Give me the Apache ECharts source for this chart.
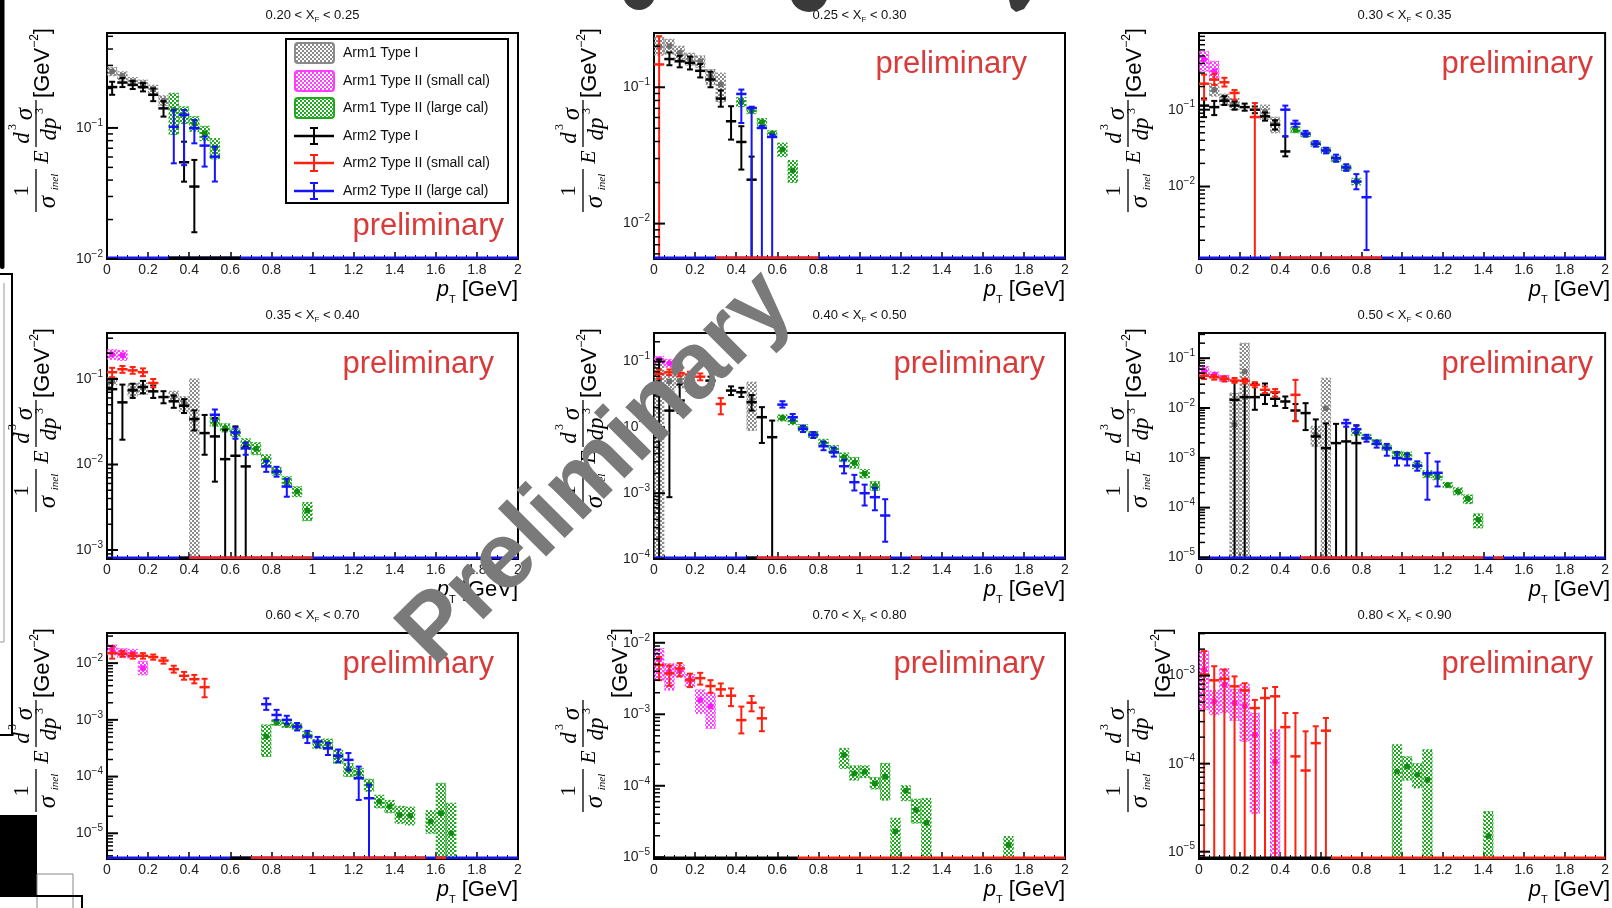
<!DOCTYPE html>
<html>
<head>
<meta charset="utf-8">
<script src="https://cdn.jsdelivr.net/npm/echarts@6/dist/echarts.min.js"></script>
<style>
html, body { margin: 0; padding: 0; background: #fff; }
#chart { width: 1612px; height: 908px; }
</style>
</head>
<body>
<div id="chart"></div>
<script>
// ---------------------------------------------------------------------------
// Invariant cross sections (1/sigma_inel) E d3sigma/dp3 vs pT, nine x_F bins.
// Each point: [pT centre, value, lower edge, upper edge]; an edge of 0 means
// the uncertainty reaches zero (drawn down to the bottom of the log axis).
// ---------------------------------------------------------------------------
const xfEdges = ['0.20', '0.25', '0.30', '0.35', '0.40', '0.50', '0.60', '0.70', '0.80', '0.90'];

// y range of every panel (log axis)
const yRanges = [
  [0.01, 0.53], [0.0055, 0.25], [0.00114, 0.995],
  [7.85e-4, 0.345], [1e-4, 0.272], [9.3e-6, 0.32],
  [3.52e-6, 0.034], [9.46e-6, 0.0137], [8.26e-6, 0.00305]
];

const legendLabels = [
  'Arm1 Type I', 'Arm1 Type II (small cal)', 'Arm1 Type II (large cal)',
  'Arm2 Type I', 'Arm2 Type II (small cal)', 'Arm2 Type II (large cal)'
];

// Arm1 Type I (systematic boxes)
const arm1TypeI = [
  [[0.025, 0.269, 0.25, 0.29], [0.075, 0.249, 0.232, 0.268], [0.125, 0.225, 0.21, 0.242],
   [0.175, 0.215, 0.2, 0.232], [0.225, 0.197, 0.183, 0.212], [0.275, 0.161, 0.148, 0.176]],
  [[0.025, 0.2, 0.172, 0.232], [0.075, 0.2, 0.175, 0.225], [0.125, 0.179, 0.16, 0.2],
   [0.175, 0.161, 0.145, 0.178], [0.225, 0.155, 0.14, 0.17], [0.275, 0.12, 0.105, 0.135],
   [0.325, 0.105, 0.078, 0.127]],
  [[0.075, 0.182, 0.15, 0.22], [0.125, 0.135, 0.115, 0.16], [0.175, 0.122, 0.1, 0.14],
   [0.325, 0.095, 0.075, 0.115], [0.375, 0.066, 0.05, 0.08]],
  [[0.025, 0.094, 0.085, 0.104], [0.125, 0.075, 0.063, 0.088], [0.175, 0.0785, 0.066, 0.09],
   [0.325, 0.0627, 0.055, 0.072], [0.375, 0.0523, 0.042, 0.062], [0.425, 0.0334, 0, 0.1]],
  [[0.025, 0.0514, 0, 0.095], [0.075, 0.05, 0.035, 0.07], [0.125, 0.0514, 0.04, 0.065],
   [0.175, 0.045, 0.035, 0.058], [0.475, 0.0256, 0.009, 0.0486]],
  [[0.175, 0.00459, 0, 0.0199], [0.225, 0.054, 0, 0.2], [0.575, 0.0029, 0.0017, 0.0043],
   [0.625, 0.00993, 0, 0.0397]],
  [], [], []
];

// Arm1 Type II, small calorimeter (systematic boxes)
const arm1SmallCal = [
  [],
  [],
  [[0.025, 0.449, 0.316, 0.57], [0.075, 0.316, 0.246, 0.427]],
  [[0.025, 0.193, 0.17, 0.22], [0.075, 0.188, 0.165, 0.215]],
  [[0.025, 0.106, 0.09, 0.12], [0.075, 0.0944, 0.082, 0.108]],
  [[0.025, 0.0566, 0.045, 0.068], [0.075, 0.0464, 0.04, 0.053], [0.125, 0.0397, 0.034, 0.045]],
  [[0.025, 0.0172, 0.014, 0.021], [0.075, 0.015, 0.0125, 0.018], [0.125, 0.0146, 0.012, 0.0175],
   [0.175, 0.00816, 0.0062, 0.0108]],
  [[0.025, 0.00604, 0.003, 0.0083], [0.075, 0.00394, 0.00218, 0.0051], [0.125, 0.0041, 0.0033, 0.0049],
   [0.175, 0.00301, 0.0024, 0.0036], [0.225, 0.00158, 0.00103, 0.0022], [0.275, 0.0013, 0.000635, 0.00196]],
  [[0.025, 0.00117, 0.00041, 0.00189], [0.075, 0.00051, 0.00036, 0.00068], [0.125, 0.00079, 0.00038, 0.0012],
   [0.175, 0.000489, 0.00031, 0.0007], [0.225, 0.000448, 0.00018, 0.0008], [0.275, 0.000213, 0.0000273, 0.000376],
   [0.375, 0.000106, 0, 0.000243]]
];

// Arm1 Type II, large calorimeter (systematic boxes)
const arm1LargeCal = [
  [[0.325, 0.137, 0.089, 0.184], [0.375, 0.126, 0.108, 0.145], [0.425, 0.107, 0.094, 0.122],
   [0.475, 0.091, 0.08, 0.103], [0.525, 0.07, 0.058, 0.083]],
  [[0.425, 0.0777, 0.072, 0.084], [0.475, 0.0675, 0.064, 0.071], [0.525, 0.0553, 0.052, 0.059],
   [0.575, 0.0457, 0.043, 0.048], [0.625, 0.0349, 0.031, 0.039], [0.675, 0.0245, 0.02, 0.029]],
  [[0.475, 0.0548, 0.05, 0.06], [0.525, 0.0472, 0.044, 0.051], [0.575, 0.036, 0.033, 0.039],
   [0.625, 0.0295, 0.027, 0.032], [0.675, 0.0228, 0.021, 0.025], [0.725, 0.0173, 0.016, 0.019],
   [0.775, 0.0116, 0.0105, 0.0128]],
  [[0.525, 0.0319, 0.028, 0.036], [0.575, 0.0267, 0.024, 0.03], [0.625, 0.0233, 0.021, 0.026],
   [0.675, 0.0175, 0.015, 0.02], [0.725, 0.0153, 0.013, 0.018], [0.775, 0.0111, 0.0095, 0.013],
   [0.825, 0.0083, 0.0075, 0.0092], [0.875, 0.0063, 0.0055, 0.0072], [0.925, 0.00483, 0.0042, 0.0055],
   [0.975, 0.00289, 0.0022, 0.0036]],
  [[0.625, 0.014, 0.0125, 0.0155], [0.675, 0.0124, 0.011, 0.014], [0.725, 0.0098, 0.0088, 0.011],
   [0.775, 0.0078, 0.007, 0.0087], [0.825, 0.0058, 0.0051, 0.0066], [0.875, 0.0046, 0.004, 0.0053],
   [0.925, 0.00352, 0.003, 0.0041], [0.975, 0.0029, 0.0024, 0.0035], [1.025, 0.00197, 0.0017, 0.0023],
   [1.075, 0.0013, 0.0011, 0.0015]],
  [[0.775, 0.00322, 0.0028, 0.0037], [0.825, 0.00259, 0.0023, 0.0029], [0.875, 0.00204, 0.0018, 0.0023],
   [0.925, 0.0016, 0.0014, 0.0018], [0.975, 0.0012, 0.00105, 0.00135], [1.025, 0.00115, 0.001, 0.0013],
   [1.075, 0.0007, 0.0006, 0.0008], [1.125, 0.00047, 0.0004, 0.00055], [1.175, 0.00042, 0.00036, 0.00049],
   [1.225, 0.000283, 0.00025, 0.00032], [1.275, 0.000211, 0.00018, 0.00025], [1.325, 0.00015, 0.00012, 0.00018],
   [1.375, 0.000057, 0.000039, 0.000075]],
  [[0.775, 0.000508, 0.000225, 0.000817], [0.825, 0.000897, 0.0008, 0.001], [0.875, 0.00082, 0.00073, 0.00092],
   [0.925, 0.00076, 0.00068, 0.00085], [0.975, 0.000543, 0.00047, 0.00062], [1.025, 0.000377, 0.00031, 0.00045],
   [1.075, 0.000377, 0.0003, 0.00046], [1.125, 0.000225, 0.00017, 0.00029], [1.175, 0.000131, 0.0001, 0.00017],
   [1.225, 0.000115, 0.00009, 0.00014], [1.275, 0.0000713, 0.000055, 0.00009], [1.325, 0.0000362, 0.000028, 0.000047],
   [1.375, 0.0000296, 0.000023, 0.000038], [1.425, 0.0000211, 0.000015, 0.00003], [1.475, 0.0000204, 0.000014, 0.000029],
   [1.575, 0.0000161, 0.00001, 0.000025], [1.625, 0.0000225, 0, 0.0000763], [1.675, 0.00001, 0, 0.0000339]],
  [[0.925, 0.000269, 0.000175, 0.000334], [0.975, 0.000149, 0.00012, 0.00019], [1.025, 0.000157, 0.00013, 0.00019],
   [1.075, 0.000108, 0.00009, 0.00013], [1.125, 0.000134, 0.000063, 0.000206], [1.175, 0.0000229, 0, 0.0000352],
   [1.225, 0.0000855, 0.000062, 0.0001], [1.275, 0.0000459, 0.00003, 0.000065], [1.325, 0.0000305, 0, 0.0000665],
   [1.725, 0.0000149, 0, 0.0000195]],
  [[0.975, 0.0000815, 0, 0.000164], [1.025, 0.000093, 0.000065, 0.00012], [1.075, 0.0000746, 0.000053, 0.0001],
   [1.125, 0.0000654, 0, 0.000144], [1.425, 0.0000151, 0, 0.0000285]]
];

// Arm2 Type I (statistical error bars)
const arm2TypeI = [
  [[0.025, 0.205, 0.179, 0.225], [0.075, 0.222, 0.205, 0.24], [0.125, 0.213, 0.198, 0.228],
   [0.175, 0.205, 0.19, 0.22], [0.225, 0.179, 0.16, 0.2], [0.275, 0.141, 0.122, 0.16],
   [0.375, 0.0547, 0.0389, 0.0785], [0.425, 0.0357, 0.016, 0.057]],
  [[0.075, 0.161, 0.145, 0.18], [0.125, 0.155, 0.14, 0.17], [0.175, 0.151, 0.135, 0.168],
   [0.225, 0.132, 0.118, 0.148], [0.275, 0.114, 0.1, 0.13], [0.325, 0.0826, 0.072, 0.095],
   [0.375, 0.0563, 0.0413, 0.0726], [0.425, 0.0397, 0.0249, 0.0518], [0.475, 0.021, 0, 0.031]],
  [[0.025, 0.113, 0.08, 0.14], [0.075, 0.108, 0.085, 0.13], [0.125, 0.131, 0.115, 0.15],
   [0.175, 0.113, 0.1, 0.128], [0.225, 0.108, 0.097, 0.12], [0.275, 0.1, 0.09, 0.11],
   [0.325, 0.0818, 0.072, 0.092], [0.375, 0.0637, 0.055, 0.073], [0.425, 0.0286, 0.0247, 0.0449]],
  [[0.025, 0.076, 0, 0.1], [0.075, 0.0533, 0.0195, 0.086], [0.125, 0.0737, 0.06, 0.088],
   [0.175, 0.0806, 0.068, 0.095], [0.225, 0.0717, 0.06, 0.084], [0.275, 0.0615, 0.052, 0.072],
   [0.325, 0.0548, 0.046, 0.064], [0.375, 0.0487, 0.04, 0.058], [0.425, 0.034, 0.025, 0.043],
   [0.475, 0.0233, 0.013, 0.038], [0.525, 0.0213, 0.0063, 0.035], [0.575, 0.01155, 0, 0.0255],
   [0.625, 0.01265, 0, 0.0279], [0.675, 0.0095, 0, 0.0163]],
  [[0.025, 0.0322, 0, 0.108], [0.075, 0.018, 0.00087, 0.0322], [0.125, 0.0256, 0.0165, 0.045],
   [0.175, 0.0417, 0.035, 0.05], [0.275, 0.0514, 0.045, 0.059], [0.375, 0.0363, 0.031, 0.042],
   [0.425, 0.0342, 0.029, 0.04], [0.475, 0.0241, 0.018, 0.031], [0.525, 0.0143, 0.0058, 0.0203],
   [0.575, 0.0071, 0, 0.0127]],
  [[0.175, 0.0146, 0, 0.034], [0.225, 0.0165, 0, 0.0367], [0.275, 0.0165, 0.0092, 0.0315],
   [0.325, 0.0184, 0.012, 0.031], [0.375, 0.0153, 0.011, 0.02], [0.425, 0.0135, 0.01, 0.017],
   [0.475, 0.0089, 0.0055, 0.012], [0.525, 0.0079, 0.0036, 0.0125], [0.575, 0.00268, 0, 0.0059],
   [0.625, 0.00156, 0, 0.0049], [0.675, 0.00197, 0, 0.0048], [0.725, 0.00213, 0, 0.005],
   [0.775, 0.00197, 0, 0.0045]],
  [], [], []
];

// Arm2 Type II, small calorimeter (statistical error bars)
const arm2SmallCal = [
  [],
  [[0.025, 0.147, 0, 0.237]],
  [[0.025, 0.218, 0.135, 0.286], [0.075, 0.246, 0.21, 0.29], [0.125, 0.227, 0.2, 0.26],
   [0.175, 0.165, 0.135, 0.18], [0.275, 0.0802, 0, 0.122]],
  [[0.025, 0.12, 0.105, 0.135], [0.075, 0.13, 0.118, 0.142], [0.125, 0.126, 0.115, 0.138],
   [0.175, 0.12, 0.108, 0.133], [0.225, 0.0898, 0.08, 0.1]],
  [[0.025, 0.065, 0.055, 0.075], [0.075, 0.0688, 0.062, 0.076], [0.125, 0.0665, 0.06, 0.073],
   [0.175, 0.0635, 0.057, 0.07], [0.225, 0.059, 0.052, 0.066], [0.325, 0.0227, 0.0158, 0.0279]],
  [[0.025, 0.0441, 0.038, 0.05], [0.075, 0.0415, 0.037, 0.046], [0.125, 0.0385, 0.034, 0.043],
   [0.175, 0.0356, 0.032, 0.04], [0.225, 0.035, 0.031, 0.039], [0.275, 0.0292, 0.026, 0.033],
   [0.325, 0.0232, 0.02, 0.027], [0.375, 0.0208, 0.017, 0.024], [0.475, 0.0184, 0.0054, 0.0367]],
  [[0.025, 0.015, 0.012, 0.02], [0.075, 0.0146, 0.013, 0.0165], [0.125, 0.0135, 0.012, 0.015],
   [0.175, 0.0135, 0.012, 0.015], [0.225, 0.0128, 0.0115, 0.0142], [0.275, 0.0111, 0.0098, 0.0124],
   [0.325, 0.00783, 0.0068, 0.009], [0.375, 0.00597, 0.0051, 0.007], [0.425, 0.00522, 0.0044, 0.0062],
   [0.475, 0.00377, 0.0025, 0.0053]],
  [[0.025, 0.00488, 0.003, 0.0063], [0.075, 0.00373, 0.0025, 0.0048], [0.125, 0.00437, 0.0034, 0.0052],
   [0.175, 0.00301, 0.0024, 0.0037], [0.225, 0.0032, 0.0026, 0.0038], [0.275, 0.00248, 0.002, 0.003],
   [0.325, 0.00223, 0.0018, 0.0027], [0.375, 0.00182, 0.0013, 0.0023], [0.425, 0.000829, 0.00054, 0.00128],
   [0.475, 0.00145, 0.0011, 0.0018], [0.525, 0.000877, 0.00058, 0.00124]],
  [[0.025, 0.00103, 0, 0.0019], [0.075, 0.000885, 0, 0.00128], [0.125, 0.00092, 0, 0.00117],
   [0.175, 0.000756, 0, 0.00098], [0.225, 0.00068, 0, 0.00082], [0.275, 0.000428, 0, 0.00053],
   [0.325, 0.000557, 0, 0.00072], [0.375, 0.000582, 0, 0.000743], [0.425, 0.00026, 0, 0.000376],
   [0.475, 0.000121, 0, 0.000376], [0.525, 0.0000836, 0, 0.000233], [0.575, 0.000171, 0, 0.000266],
   [0.625, 0.000237, 0, 0.00033]]
];

// Arm2 Type II, large calorimeter (statistical error bars)
const arm2LargeCal = [
  [[0.325, 0.102, 0.0537, 0.137], [0.375, 0.126, 0.052, 0.137], [0.425, 0.0995, 0.0763, 0.115],
   [0.475, 0.0733, 0.0507, 0.086], [0.525, 0.0604, 0.039, 0.072]],
  [[0.425, 0.0893, 0.0547, 0.0962], [0.475, 0.0705, 0, 0.072], [0.525, 0.0503, 0, 0.052],
   [0.575, 0.0432, 0, 0.045]],
  [[0.425, 0.1, 0.045, 0.113], [0.475, 0.0657, 0.06, 0.072], [0.525, 0.0487, 0.045, 0.053],
   [0.575, 0.036, 0.033, 0.039], [0.625, 0.0295, 0.027, 0.032], [0.675, 0.0234, 0.021, 0.026],
   [0.725, 0.0177, 0.016, 0.0195], [0.775, 0.0116, 0.0092, 0.0145], [0.825, 0.00726, 0.00149, 0.0157]],
  [[0.525, 0.0382, 0.033, 0.044], [0.625, 0.0237, 0.02, 0.027], [0.675, 0.0155, 0.013, 0.018],
   [0.775, 0.0095, 0.0082, 0.011], [0.825, 0.00828, 0.0072, 0.0094], [0.875, 0.00552, 0.0042, 0.0068]],
  [[0.625, 0.0222, 0.02, 0.025], [0.675, 0.0143, 0.0128, 0.016], [0.725, 0.0095, 0.0085, 0.0106],
   [0.775, 0.00769, 0.0069, 0.0085], [0.825, 0.00518, 0.0045, 0.006], [0.875, 0.0042, 0.0036, 0.0049],
   [0.925, 0.00257, 0.002, 0.0032], [0.975, 0.00147, 0.0011, 0.0019], [1.025, 0.001, 0.00065, 0.00135],
   [1.075, 0.00087, 0.00055, 0.0012], [1.125, 0.000458, 0.000183, 0.00081]],
  [[0.725, 0.00497, 0.0042, 0.0058], [0.775, 0.00376, 0.0032, 0.0044], [0.825, 0.00248, 0.0021, 0.0029],
   [0.875, 0.00191, 0.0016, 0.0022], [0.925, 0.00156, 0.0011, 0.0019], [0.975, 0.00098, 0.0007, 0.0013],
   [1.025, 0.00094, 0.0007, 0.0012], [1.075, 0.00069, 0.00055, 0.00085], [1.125, 0.00049, 0.000144, 0.00124],
   [1.175, 0.0005, 0.000266, 0.00084]],
  [[0.775, 0.00189, 0.0015, 0.0024], [0.825, 0.00122, 0.001, 0.0015], [0.875, 0.001, 0.00085, 0.00118],
   [0.925, 0.00076, 0.00065, 0.00088], [0.975, 0.000508, 0.00039, 0.00064], [1.025, 0.000415, 0.00033, 0.0005],
   [1.075, 0.000316, 0.00024, 0.00039], [1.125, 0.000232, 0.00018, 0.0003], [1.175, 0.000197, 0.00013, 0.00026],
   [1.225, 0.0000935, 0.0000387, 0.00015], [1.275, 0.0000415, 0, 0.000072]],
  [], []
];

// pT ranges of empty Arm2 bins, drawn along the bottom of each frame
const emptyTypeI = [[[0.3, 0.65]], [], [], [[0.35, 0.4]], [[0.45, 0.5]], [], [[0.6, 0.7]], [[0, 0.7]], [[0, 0.65]]];
const emptySmallCal = [[], [[0.3, 0.8]], [[0.35, 0.9]], [[0.4, 1.0]], [[0.5, 1.15], [1.25, 1.3]],
  [[0.5, 1.4], [1.45, 1.5]], [[0.7, 1.55], [1.6, 1.65]], [[0.7, 2]], [[0.65, 2]]];
const emptyLargeCal = [[[0, 2]], [[0, 2]], [[0, 2]], [[0, 2]], [[0, 2]], [[0, 2]], [[0, 2]], [], []];

// ---------------------------------------------------------------------------
// Layout and style
// ---------------------------------------------------------------------------
const FONT = '"Liberation Sans", Arial, Helvetica, sans-serif';
const SERIF = '"Liberation Serif", "DejaVu Serif", "Times New Roman", serif';
const COL_LEFT = [107, 654, 1199];
const ROW_TOP = [33, 333, 633];
const PW = 411, PH = 226;
const HALF_BIN = 0.025, BOX_HALF = 0.023;
const GEV_SHIFT = [0, 0, 0, 0, 0, 0, 0, 31, 29];
const PRELIM_RIGHT = [14, 38, 17, 24, 20, 17, 24, 20, 17];

const COLOR = {
  arm1TypeI: '#8a8a8a', arm1SmallCal: '#ff3cff', arm1LargeCal: '#1fa81f',
  arm2TypeI: '#000000', arm2SmallCal: '#ff2010', arm2LargeCal: '#1414ff'
};
const MARKER = { arm1TypeI: '#707070', arm1SmallCal: '#ff1aff', arm1LargeCal: '#128c12' };

function dotPattern(color) {
  const c = document.createElement('canvas');
  c.width = 4; c.height = 4;
  const g = c.getContext('2d');
  g.fillStyle = color;
  g.fillRect(0, 0, 2, 2);
  g.fillRect(2, 2, 2, 2);
  return c;
}
const PATTERN = {
  arm1TypeI: dotPattern(COLOR.arm1TypeI),
  arm1SmallCal: dotPattern(COLOR.arm1SmallCal),
  arm1LargeCal: dotPattern(COLOR.arm1LargeCal)
};

function panelBox(i) {
  return { left: COL_LEFT[i % 3], top: ROW_TOP[Math.floor(i / 3)] };
}

// pixel y of a value, or the frame bottom when the value is zero
function yPix(api, params, x, v) {
  return v > 0 ? api.coord([x, v])[1] : params.coordSys.y + params.coordSys.height;
}

function renderErrorBar(color) {
  return function (params, api) {
    const x = api.value(0), y = api.value(1), lo = api.value(2), hi = api.value(3);
    const c = api.coord([x, y]);
    const xl = api.coord([x - HALF_BIN, y])[0];
    const xr = api.coord([x + HALF_BIN, y])[0];
    const yl = yPix(api, params, x, lo);
    const yh = yPix(api, params, x, hi);
    const children = [
      { type: 'line', shape: { x1: xl, y1: c[1], x2: xr, y2: c[1] }, style: { stroke: color, lineWidth: 2.5 } },
      { type: 'line', shape: { x1: c[0], y1: yh, x2: c[0], y2: yl }, style: { stroke: color, lineWidth: 2 } },
      { type: 'line', shape: { x1: c[0] - 3, y1: yh, x2: c[0] + 3, y2: yh }, style: { stroke: color, lineWidth: 2 } }
    ];
    if (lo > 0) {
      children.push({ type: 'line', shape: { x1: c[0] - 3, y1: yl, x2: c[0] + 3, y2: yl }, style: { stroke: color, lineWidth: 2 } });
    }
    return { type: 'group', children: children };
  };
}

function renderBox(key) {
  return function (params, api) {
    const x = api.value(0), y = api.value(1), lo = api.value(2), hi = api.value(3);
    const c = api.coord([x, y]);
    const xl = api.coord([x - BOX_HALF, y])[0];
    const xr = api.coord([x + BOX_HALF, y])[0];
    const yl = yPix(api, params, x, lo);
    const yh = yPix(api, params, x, hi);
    return {
      type: 'group',
      children: [
        { type: 'rect', shape: { x: xl, y: yh, width: xr - xl, height: yl - yh },
          style: { fill: { image: PATTERN[key], repeat: 'repeat' }, stroke: COLOR[key], lineWidth: 1, lineDash: [2, 2] } },
        { type: 'circle', shape: { cx: c[0], cy: c[1], r: 3 }, style: { fill: MARKER[key] } }
      ]
    };
  };
}

function renderEmpty(color) {
  return function (params, api) {
    const x0 = api.coord([api.value(0), 1])[0];
    const x1 = api.coord([api.value(1), 1])[0];
    const yb = params.coordSys.y + params.coordSys.height - 1;
    return { type: 'line', shape: { x1: x0, y1: yb, x2: x1, y2: yb }, style: { stroke: color, lineWidth: 3 } };
  };
}

// decade and 2..9 sub-decade tick marks of a log axis
function logTickValues(range) {
  const out = [];
  const e0 = Math.floor(Math.log10(range[0])), e1 = Math.ceil(Math.log10(range[1]));
  for (let e = e0; e <= e1; e++) {
    for (let m = 1; m <= 9; m++) {
      const v = m * Math.pow(10, e);
      if (v >= range[0] * 0.9999 && v <= range[1]) out.push([0, v, m === 1 ? 1 : 0]);
    }
  }
  return out;
}
function renderYTick(params, api) {
  const major = api.value(2) === 1;
  const y = api.coord([0, api.value(1)])[1];
  const x0 = params.coordSys.x;
  return { type: 'line', shape: { x1: x0, y1: y, x2: x0 + (major ? 11 : 6), y2: y },
           style: { stroke: '#000', lineWidth: major ? 2 : 1.5 } };
}

function logLabel(v) {
  const e = Math.log10(v), r = Math.round(e);
  if (Math.abs(e - r) > 1e-6) return '';
  return '{b|10}{s|' + (r < 0 ? '\u2212' : '') + Math.abs(r) + '}';
}

// ---------------------------------------------------------------------------
// Build grids, axes and series
// ---------------------------------------------------------------------------
const grids = [], xAxes = [], yAxes = [], series = [];
for (let i = 0; i < 9; i++) {
  const p = panelBox(i);
  grids.push({ left: p.left, top: p.top, width: PW, height: PH, show: true, borderColor: '#000', borderWidth: 2 });
  xAxes.push({
    type: 'value', gridIndex: i, min: 0, max: 2, interval: 0.2,
    axisLine: { lineStyle: { color: '#000', width: 2 } },
    axisTick: { inside: true, length: 7, lineStyle: { color: '#000', width: 1.5 } },
    minorTick: { show: true, splitNumber: 4, length: 4, lineStyle: { color: '#000', width: 1 } },
    splitLine: { show: false },
    axisLabel: { margin: 4, fontSize: 14, color: '#222', fontFamily: FONT }
  });
  yAxes.push({
    type: 'log', logBase: 10, gridIndex: i, min: yRanges[i][0], max: yRanges[i][1],
    axisLine: { lineStyle: { color: '#000', width: 2 } },
    axisTick: { show: false },
    splitLine: { show: false },
    axisLabel: {
      margin: 4, formatter: logLabel,
      rich: {
        b: { fontSize: 14, color: '#222', fontFamily: FONT, lineHeight: 20 },
        s: { fontSize: 10, color: '#222', fontFamily: FONT, verticalAlign: 'top', lineHeight: 12 }
      }
    }
  });

  const common = { type: 'custom', xAxisIndex: i, yAxisIndex: i, clip: true, silent: true, animation: false };
  [['arm1TypeI', arm1TypeI], ['arm1SmallCal', arm1SmallCal], ['arm1LargeCal', arm1LargeCal]].forEach(function (d) {
    series.push(Object.assign({}, common, { name: d[0], z: 2, data: d[1][i], renderItem: renderBox(d[0]) }));
  });
  [['arm2TypeI', arm2TypeI], ['arm2SmallCal', arm2SmallCal], ['arm2LargeCal', arm2LargeCal]].forEach(function (d) {
    series.push(Object.assign({}, common, { name: d[0], z: 3, data: d[1][i], renderItem: renderErrorBar(COLOR[d[0]]) }));
  });
  [['arm2LargeCal', emptyLargeCal], ['arm2TypeI', emptyTypeI], ['arm2SmallCal', emptySmallCal]].forEach(function (d) {
    series.push(Object.assign({}, common, { name: d[0] + ' empty', z: 4, data: d[1][i], renderItem: renderEmpty(COLOR[d[0]]) }));
  });
  series.push(Object.assign({}, common, { name: 'y ticks', z: 5, clip: false, data: logTickValues(yRanges[i]), renderItem: renderYTick }));
}

// ---------------------------------------------------------------------------
// Text and decorations
// ---------------------------------------------------------------------------
function txt(text, x, y, font, extra) {
  return { type: 'text', x: x, y: y,
           style: Object.assign({ text: text, font: font, fill: '#000', align: 'center', verticalAlign: 'middle' }, extra || {}) };
}

// (1/sigma_inel) E d3sigma/dp3 [GeV^-2], read bottom to top
function yTitle(left, top, gevShift) {
  return {
    type: 'group', x: left - 66, y: top + 180, rotation: Math.PI / 2,
    children: [
      txt('1', 22, -19, '22px ' + SERIF),
      { type: 'line', shape: { x1: 1, y1: -5, x2: 44, y2: -5 }, style: { stroke: '#000', lineWidth: 1.3 } },
      txt('\u03c3', 11, 7, 'italic 25px ' + SERIF),
      txt('inel', 31, 14, 'italic 11px ' + SERIF),
      txt('E', 56, 1, 'italic 22px ' + SERIF),
      txt('d', 75, -18, 'italic 23px ' + SERIF),
      txt('3', 86, -28, '12px ' + SERIF),
      txt('\u03c3', 99, -16, 'italic 25px ' + SERIF),
      { type: 'line', shape: { x1: 66, y1: -5, x2: 113, y2: -5 }, style: { stroke: '#000', lineWidth: 1.3 } },
      txt('dp', 84, 9, 'italic 23px ' + SERIF),
      txt('3', 102, -1, '12px ' + SERIF),
      { type: 'text', x: 150, y: 2 + gevShift,
        style: { text: '{a|[GeV}{s|\u22122}{a|]}', align: 'center', verticalAlign: 'middle',
                 rich: { a: { font: '22px ' + FONT, fill: '#000', lineHeight: 28 },
                         s: { font: '12px ' + FONT, fill: '#000', verticalAlign: 'top', lineHeight: 12 } } } }
    ]
  };
}

const graphics = [];
for (let i = 0; i < 9; i++) {
  const p = panelBox(i);
  graphics.push({
    type: 'text', x: p.left + PW / 2, y: p.top - 18,
    style: { text: '{a|' + xfEdges[i] + ' < X}{f|F}{a| < ' + xfEdges[i + 1] + '}', align: 'center', verticalAlign: 'middle',
             rich: { a: { font: '13px ' + FONT, fill: '#111', lineHeight: 18 },
                     f: { font: '8px ' + FONT, fill: '#111', verticalAlign: 'bottom', lineHeight: 8 } } }
  });
  graphics.push(yTitle(p.left, p.top, GEV_SHIFT[i]));
  graphics.push({
    type: 'text', x: p.left + PW, y: p.top + PH + 31,
    style: { text: '{p|p}{t|T}{g| [GeV]}', align: 'right', verticalAlign: 'middle',
             rich: { p: { font: 'italic 22px ' + FONT, fill: '#000', lineHeight: 30 },
                     t: { font: '11px ' + FONT, fill: '#000', verticalAlign: 'bottom', lineHeight: 11 },
                     g: { font: '22px ' + FONT, fill: '#000', lineHeight: 30 } } }
  });
  graphics.push({
    type: 'text', z: 20, x: p.left + PW - PRELIM_RIGHT[i], y: i === 0 ? p.top + PH - 33 : p.top + 31,
    style: { text: 'preliminary', font: '31px ' + FONT, fill: '#d93a3a', align: 'right', verticalAlign: 'middle' }
  });
}

// legend of the first panel
(function () {
  const L = 286, T = 39, W = 222, H = 164;
  graphics.push({ type: 'rect', z: 30, shape: { x: L, y: T, width: W, height: H }, style: { fill: '#fff', stroke: '#000', lineWidth: 2 } });
  const keys = ['arm1TypeI', 'arm1SmallCal', 'arm1LargeCal', 'arm2TypeI', 'arm2SmallCal', 'arm2LargeCal'];
  const rowY = [53, 81, 108, 136, 163, 191];
  keys.forEach(function (k, j) {
    const y = rowY[j];
    if (j < 3) {
      graphics.push({ type: 'rect', z: 31, shape: { x: 295, y: y - 10, width: 39, height: 20, r: 3 },
                      style: { fill: { image: PATTERN[k], repeat: 'repeat' }, stroke: COLOR[k], lineWidth: 2 } });
    } else {
      graphics.push({ type: 'line', z: 31, shape: { x1: 294, y1: y, x2: 334, y2: y }, style: { stroke: COLOR[k], lineWidth: 2.5 } });
      graphics.push({ type: 'line', z: 31, shape: { x1: 314, y1: y - 8, x2: 314, y2: y + 8 }, style: { stroke: COLOR[k], lineWidth: 2 } });
      graphics.push({ type: 'line', z: 31, shape: { x1: 310, y1: y - 8, x2: 318, y2: y - 8 }, style: { stroke: COLOR[k], lineWidth: 2 } });
      graphics.push({ type: 'line', z: 31, shape: { x1: 310, y1: y + 8, x2: 318, y2: y + 8 }, style: { stroke: COLOR[k], lineWidth: 2 } });
    }
    graphics.push({ type: 'text', z: 31, x: 343, y: y,
                    style: { text: legendLabels[j], font: '14px ' + FONT, fill: '#111', align: 'left', verticalAlign: 'middle' } });
  });
})();

// frame pieces cut off at the page edges
graphics.push(
  { type: 'rect', z: 40, shape: { x: 0, y: 0, width: 4.5, height: 269, r: [0, 0, 2, 2] }, style: { fill: '#000' } },
  { type: 'polyline', z: 40, shape: { points: [[0, 274], [12, 274], [12, 735], [0, 735]] }, style: { stroke: '#000', lineWidth: 2, fill: null } },
  { type: 'polyline', z: 40, shape: { points: [[4, 283], [4, 642], [0, 642]] }, style: { stroke: '#999', lineWidth: 1, fill: null } },
  { type: 'rect', z: 40, shape: { x: 0, y: 815, width: 37, height: 82 }, style: { fill: '#000' } },
  { type: 'rect', z: 40, shape: { x: 37, y: 874, width: 36, height: 40 }, style: { fill: '#fff', stroke: '#888', lineWidth: 1 } },
  { type: 'polyline', z: 40, shape: { points: [[0, 896], [82, 896], [82, 908]] }, style: { stroke: '#000', lineWidth: 2, fill: null } },
  { type: 'circle', z: 40, shape: { cx: 639, cy: -6, r: 16 }, style: { fill: '#3a3a3a' } },
  { type: 'circle', z: 40, shape: { cx: 809, cy: -7, r: 19 }, style: { fill: '#3a3a3a' } },
  { type: 'polygon', z: 40, shape: { points: [[1009, 0], [1030, 0], [1024, 9], [1016, 12], [1011, 8]] }, style: { fill: '#3a3a3a' } }
);

// diagonal watermark
graphics.push({
  type: 'text', z: 100, x: 597, y: 469, rotation: 45 * Math.PI / 180,
  style: { text: 'Preliminary', font: 'bold 94px ' + FONT, fill: '#7a7a7a', align: 'center', verticalAlign: 'middle' }
});

const chart = echarts.init(document.getElementById('chart'), null, { renderer: 'canvas' });
chart.setOption({
  animation: false,
  backgroundColor: '#ffffff',
  grid: grids,
  xAxis: xAxes,
  yAxis: yAxes,
  series: series,
  graphic: { elements: graphics }
});
</script>
</body>
</html>
